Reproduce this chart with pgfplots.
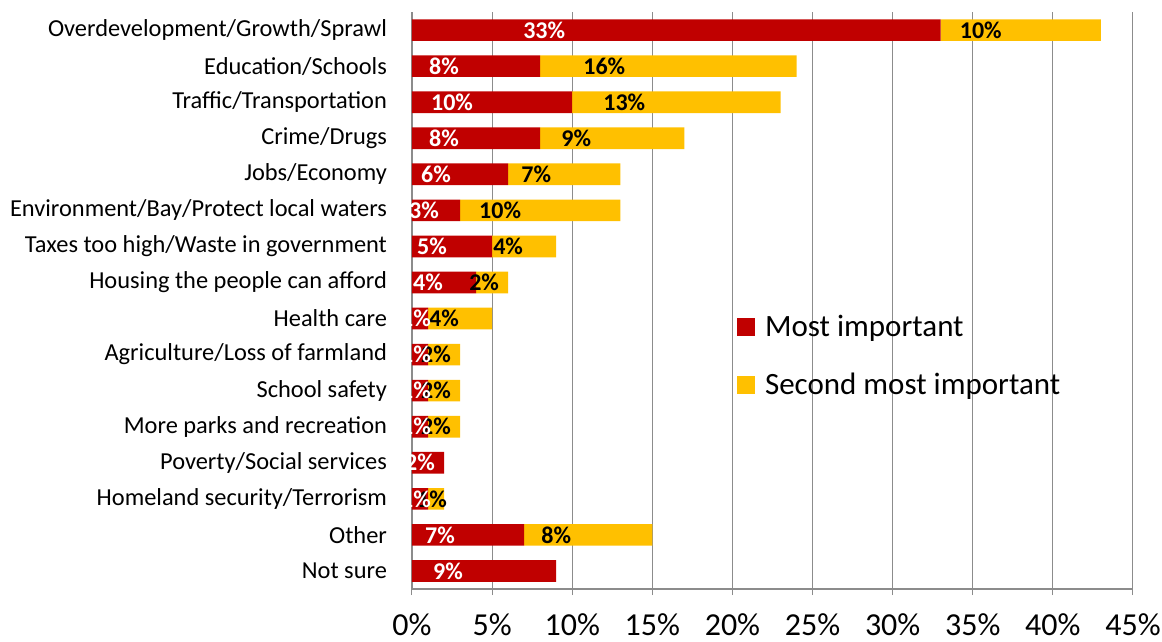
\documentclass[border=0pt]{standalone}
\usepackage{fontspec}
\setmainfont{Carlito}
\usepackage{pgfplots}
\usepackage{pgfplotstable}
\pgfplotsset{compat=1.18}
\definecolor{barred}{HTML}{C00000}
\definecolor{baryel}{HTML}{FFC000}
\definecolor{gridgray}{HTML}{8C8C8C}

\pgfplotstableread{
idx first second
0 33 10
1 8 16
2 10 13
3 8 9
4 6 7
5 3 10
6 5 4
7 4 2
8 1 4
9 1 2
10 1 2
11 1 2
12 2 0
13 1 1
14 7 8
15 9 0
}\data

\begin{document}
\begin{tikzpicture}
\path[use as bounding box] (-206pt,-26.5pt) rectangle (375pt,294.5pt);
\begin{axis}[
  at={(0pt,0pt)}, anchor=south west,
  x=8.011pt, y=18.03pt, y dir=reverse,
  xbar stacked, bar width=0.6,
  xmin=0, xmax=45, ymin=-0.5, ymax=15.5,
  /pgf/number format/assume math mode=true,
  axis x line*=bottom, axis y line*=left,
  axis line style={gridgray, line width=0.6pt},
  xmajorgrids, grid style={gridgray, line width=0.5pt},
  xtick={0,5,...,45},
  xticklabels={0\%,5\%,10\%,15\%,20\%,25\%,30\%,35\%,40\%,45\%},
  xticklabel style={font=\fontsize{16}{16}\selectfont, yshift=-6pt},
  ytick={0,...,15},
  yticklabels={Overdevelopment/Growth/Sprawl, Education/Schools, Traffic/Transportation, Crime/Drugs, Jobs/Economy, Environment/Bay/Protect local waters, Taxes too high/Waste in government, Housing the people can afford, Health care, Agriculture/Loss of farmland, School safety, More parks and recreation, Poverty/Social services, Homeland security/Terrorism, Other, Not sure},
  yticklabel style={font=\fontsize{12.2}{12.2}\selectfont, xshift=-6pt},
  minor ytick={-0.5,0.5,...,15.5},
  major tick length=3pt, minor tick length=3pt,
  tick style={gridgray, line width=0.5pt},
  ytick style={draw=none},
  minor tick style={draw=gridgray},
  tick align=outside,
  legend style={draw=none, fill=none, at={(0.442,0.490)}, anchor=north west,
    font=\fontsize{15.5}{15.5}\selectfont, row sep=13pt},
  legend cell align=left,
  nodes near coords={\ifdim\val pt>0.5pt \pgfmathprintnumber{\val}\%\fi},
  every node near coord/.append style={anchor=center, xshift={-\val*2.0028pt},
    font=\bfseries\fontsize{12}{12}\selectfont},
]
\addplot+[fill=barred, draw=none,
  visualization depends on={\thisrow{first}\as\val},
  every node near coord/.append style={text=white},
  legend image code/.code={\fill[barred] (0pt,-4.5pt) rectangle (9pt,4.5pt);\path (12pt,0pt);}]
  table[x=first, y=idx] {\data};
\addlegendentry{Most important}
\addplot+[fill=baryel, draw=none,
  visualization depends on={\thisrow{second}\as\val},
  every node near coord/.append style={text=black},
  legend image code/.code={\fill[baryel] (0pt,-4.5pt) rectangle (9pt,4.5pt);\path (12pt,0pt);}]
  table[x=second, y=idx] {\data};
\addlegendentry{Second most important}
\end{axis}
\end{tikzpicture}
\end{document}
